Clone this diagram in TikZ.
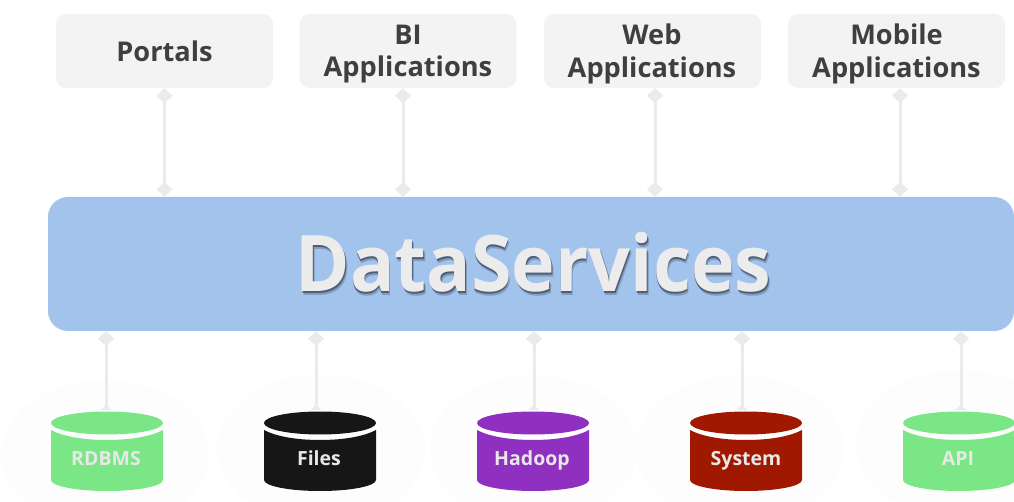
\documentclass[tikz,border=0pt]{standalone}
\usepackage{fontspec}
\setmainfont{Open Sans}
\usetikzlibrary{arrows.meta,backgrounds}
\definecolor{boxgray}{HTML}{F3F3F3}
\definecolor{boxtext}{HTML}{3F3F3F}
\definecolor{busblue}{HTML}{A2C3EC}
\definecolor{connline}{HTML}{EBEBEB}
\definecolor{halo}{HTML}{FDFDFD}
\definecolor{titletext}{HTML}{ECECEC}
\definecolor{titleshadow}{HTML}{3A4558}
\definecolor{dbtextcol}{HTML}{E8E8E8}
\definecolor{dbgreen}{HTML}{7BE686}
\definecolor{dbblack}{HTML}{161616}
\definecolor{dbpurple}{HTML}{9030C0}
\definecolor{dbred}{HTML}{A11800}
\newcommand{\titletxt}{\scalebox{0.945}[1]{DataServices}}
\tikzset{
  x=1pt,y=-1pt,
  appbox/.style={fill=boxgray,rounded corners=10pt,minimum width=217pt,minimum height=74pt,inner sep=0pt},
  apptext/.style={inner sep=0pt,font=\fontsize{27.2}{32.5}\selectfont\bfseries,text=boxtext,align=center},
  busbox/.style={fill=busblue,rounded corners=20pt,minimum width=966pt,minimum height=134pt,inner sep=0pt},
  conn/.style={draw=connline,line width=3pt,{Diamond[length=15pt,width=16pt]}-{Diamond[length=15pt,width=16pt]}},
  haloshape/.style={fill=halo},
  dbnode/.style={minimum width=112pt,minimum height=79pt,inner sep=0pt,text=dbtextcol,font=\fontsize{19.5}{22}\selectfont\bfseries},
  titlefont/.style={font=\fontsize{78}{90}\selectfont\bfseries},
  pics/dbcyl/.style={code={
    \draw[white,line width=3pt] (0,423) ellipse [x radius=56pt,y radius=11.5pt];
    \fill[#1] (0,423) ellipse [x radius=56pt,y radius=11.5pt];
    \fill[#1] (-56,430) -- (-56,480) .. controls (-56,486) and (-31,491) .. (0,491)
       .. controls (31,491) and (56,486) .. (56,480) -- (56,430)
       .. controls (45,436) and (25,440) .. (0,440) .. controls (-25,440) and (-45,436) .. (-56,430) -- cycle;
  }}
}
\newcommand{\dblab}[1]{\raisebox{-13.5pt}[0pt][0pt]{#1}}
\begin{document}
\begin{tikzpicture}
\useasboundingbox (0,0) rectangle (1014,502);
% application boxes
\node[appbox] (box1) at (164.5,51) {};
\node[appbox] (box2) at (408,51) {};
\node[appbox] (box3) at (652.5,51) {};
\node[appbox] (box4) at (896.5,51) {};
\node[apptext] (txt1) at (box1.center) {Portals};
\node[apptext,yshift=-3pt] (txt2) at (box2.center) {BI\\Applications};
\node[apptext,yshift=-3pt,xshift=-.5pt] (txt3) at (box3.center) {Web\\Applications};
\node[apptext,yshift=-3pt] (txt4) at (box4.center) {Mobile\\Applications};
% central bar
\node[busbox] (bus) at (531,264) {};
\node[titlefont,text=titleshadow,opacity=.3] at (535,266) {\titletxt};
\node[titlefont,text=titleshadow,opacity=.7] at (534,264.5) {\titletxt};
\node[titlefont,text=titletext] (title) at (533.5,262.5) {\titletxt};
% database cylinders
\pic at (107,0) {dbcyl=dbgreen};
\pic at (320,0) {dbcyl=dbblack};
\pic at (533,0) {dbcyl=dbpurple};
\pic at (746,0) {dbcyl=dbred};
\pic at (959,0) {dbcyl=dbgreen};
\node[dbnode] (db1) at (106,451.5) {\dblab{RDBMS}};
\node[dbnode] (db2) at (319,451.5) {\dblab{Files}};
\node[dbnode] (db3) at (532,451.5) {\dblab{Hadoop}};
\node[dbnode] (db4) at (746,451.5) {\dblab{System}};
\node[dbnode] (db5) at (958,451.5) {\dblab{API}};
\begin{scope}[on background layer]
  \fill[white] (0,0) rectangle (1014,502);
  \fill[haloshape] (105,454) ellipse [x radius=104pt,y radius=74pt];
  \fill[haloshape] (321,449) ellipse [x radius=104pt,y radius=74pt];
  \fill[haloshape] (533,449) ellipse [x radius=104pt,y radius=74pt];
  \fill[haloshape] (740,449) ellipse [x radius=104pt,y radius=74pt];
  \fill[haloshape] (960,444) ellipse [x radius=104pt,y radius=74pt];
  % upper connectors
  \draw[conn] (box1.south) -- (box1.south |- bus.north);
  \draw[conn] ([xshift=-5pt]box2.south) -- ([xshift=-5pt]box2.south |- bus.north);
  \draw[conn] ([xshift=2.5pt]box3.south) -- ([xshift=2.5pt]box3.south |- bus.north);
  \draw[conn] ([xshift=3.5pt]box4.south) -- ([xshift=3.5pt]box4.south |- bus.north);
  % lower connectors
  \draw[conn] (bus.south -| db1.north) -- ([yshift=-8pt]db1.north);
  \draw[conn] ([xshift=-3pt]bus.south -| db2.north) -- ([xshift=-3pt,yshift=-8pt]db2.north);
  \draw[conn] ([xshift=2pt]bus.south -| db3.north) -- ([xshift=2pt,yshift=-8pt]db3.north);
  \draw[conn] ([xshift=-4pt]bus.south -| db4.north) -- ([xshift=-4pt,yshift=-8pt]db4.north);
  \draw[conn] ([xshift=3pt]bus.south -| db5.north) -- ([xshift=3pt,yshift=-8pt]db5.north);
\end{scope}
\end{tikzpicture}
\end{document}
